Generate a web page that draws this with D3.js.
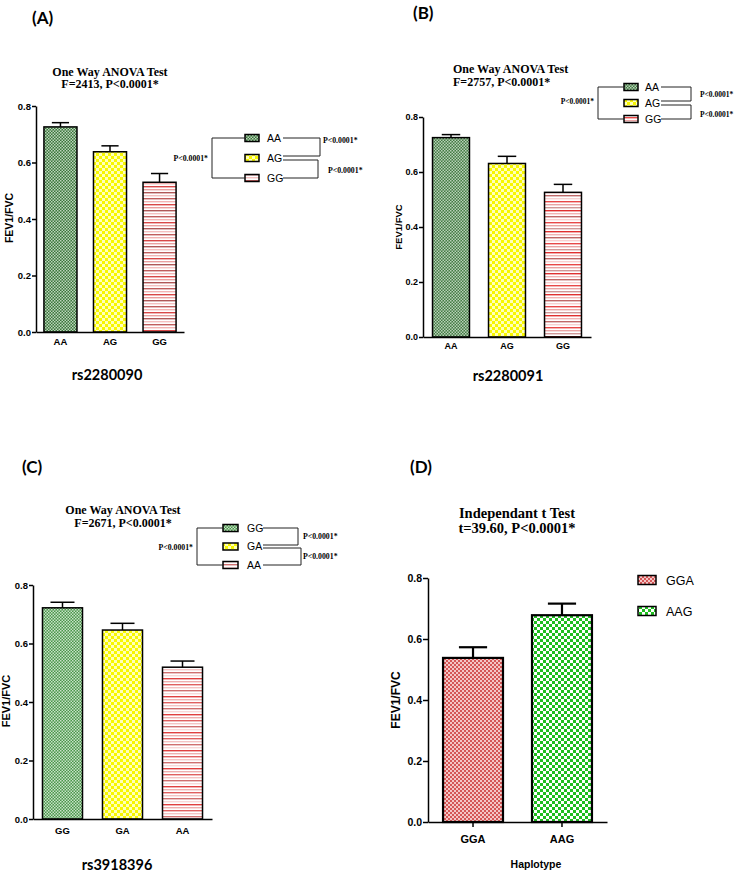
<!DOCTYPE html>
<html>
  <head>
    <meta charset="utf-8" />
    <title>FEV1/FVC by genotype</title>
    <script src="https://d3js.org/d3.v7.min.js"></script>
    <style>
      body { margin: 0; background: #fff; }
      .axis .domain, .axis line { stroke: #000; stroke-width: 1.5; }
      .axis text { font-family: Arial, "Liberation Sans", sans-serif; font-weight: bold; fill: #000; }
      .bar { stroke: #000; }
      .err { stroke: #000; fill: none; }
      .bracket { stroke: #222; stroke-width: 1; fill: none; }
      .pval { font-family: "Liberation Serif", "Times New Roman", serif; font-weight: bold; fill: #000; }
      .title { font-family: "Liberation Serif", "Times New Roman", serif; font-weight: bold; fill: #000; }
      .panel-tag { font-family: Lato, "Open Sans", sans-serif; font-weight: bold; }
      .snp { font-family: Lato, "Open Sans", sans-serif; font-weight: bold; }
      .ylab, .xlab { font-family: Arial, "Liberation Sans", sans-serif; font-weight: bold; }
      .leg { font-family: Arial, "Liberation Sans", sans-serif; fill: #000; }
    </style>
  </head>
  <body>
    <svg width="740" height="875"></svg>
    <script>
      // Values (mean and error bar length)
      const yTicks = [0, 0.2, 0.4, 0.6, 0.8];

      const genoA = ["AA", "AG", "GG"];
      const meanA = [0.726, 0.638, 0.53];
      const semA = [0.015, 0.021, 0.031];

      const genoB = ["AA", "AG", "GG"];
      const meanB = [0.725, 0.631, 0.526];
      const semB = [0.011, 0.026, 0.029];

      const genoC = ["GG", "GA", "AA"];
      const meanC = [0.722, 0.646, 0.519];
      const semC = [0.019, 0.023, 0.021];

      const haploD = ["GGA", "AAG"];
      const meanD = [0.538, 0.678];
      const semD = [0.035, 0.038];

      const pText = "P<0.0001*";

      const svg = d3.select("svg");
      svg.append("rect").attr("width", 740).attr("height", 875).attr("fill", "#fff");
      const defs = svg.append("defs");

      // fill patterns
      function checker(id, size, bg, fg) {
        const p = defs.append("pattern").attr("id", id)
          .attr("patternUnits", "userSpaceOnUse")
          .attr("width", size * 2).attr("height", size * 2);
        p.append("rect").attr("width", size * 2).attr("height", size * 2).attr("fill", bg);
        p.append("rect").attr("width", size).attr("height", size).attr("fill", fg);
        p.append("rect").attr("x", size).attr("y", size).attr("width", size).attr("height", size).attr("fill", fg);
      }
      function stripes(id, colors, gap) {
        const p = defs.append("pattern").attr("id", id)
          .attr("patternUnits", "userSpaceOnUse")
          .attr("width", 4).attr("height", colors.length * gap);
        p.append("rect").attr("width", 4).attr("height", colors.length * gap).attr("fill", "#fff");
        colors.forEach((c, i) => {
          p.append("rect").attr("y", i * gap).attr("width", 4).attr("height", 1.4).attr("fill", c);
        });
      }
      checker("greenA", 1.5, "#3a763a", "#bcd4bc");
      checker("greenB", 1.5, "#437b43", "#b8d0b8");
      checker("greenC", 1.5, "#4a964a", "#c8e2c8");
      checker("yellow", 3, "#f7f700", "#ffffb8");
      stripes("redA", ["#c05e5e", "#f2b4b4", "#d84848", "#eaa0a0", "#b05858", "#f4c0c0"], 3);
      stripes("redB", ["#e03030", "#f2b4b4", "#c06868", "#f8d0d0", "#e84848", "#eaa4a4", "#d09898"], 3);
      stripes("redC", ["#e06060", "#f4c4c4", "#d07070", "#f8d8d8", "#e04040", "#eeb0b0"], 3);
      checker("redD", 2, "#d45656", "#f4c6c6");
      checker("greenD", 3, "#1fbd1f", "#ffffff");

      function drawPanel(p) {
        const g = svg.append("g");
        const x = d3.scaleBand().domain(p.cats)
          .range([p.x0, p.x1]).paddingInner(p.pi).paddingOuter(p.po);
        const y = d3.scaleLinear().domain([0, 0.8]).range([p.y0, p.y1]);

        // bars
        g.selectAll(".bar").data(p.cats).join("rect")
          .attr("class", "bar")
          .attr("x", (d) => x(d))
          .attr("y", (d, i) => y(p.mean[i]))
          .attr("width", x.bandwidth())
          .attr("height", (d, i) => y(0) - y(p.mean[i]))
          .attr("fill", (d, i) => "url(#" + p.fills[i] + ")")
          .attr("stroke-width", p.barStroke);

        // error bars
        const cap = x.bandwidth() * p.capFrac;
        const cx = (d) => x(d) + x.bandwidth() / 2;
        g.selectAll(".errv").data(p.cats).join("line")
          .attr("class", "err")
          .attr("stroke-width", p.barStroke)
          .attr("x1", cx).attr("x2", cx)
          .attr("y1", (d, i) => y(p.mean[i]))
          .attr("y2", (d, i) => y(p.mean[i] + p.sem[i]));
        g.selectAll(".errc").data(p.cats).join("line")
          .attr("class", "err")
          .attr("stroke-width", p.barStroke)
          .attr("x1", (d) => cx(d) - cap / 2).attr("x2", (d) => cx(d) + cap / 2)
          .attr("y1", (d, i) => y(p.mean[i] + p.sem[i]))
          .attr("y2", (d, i) => y(p.mean[i] + p.sem[i]));

        // axes
        const ya = g.append("g").attr("class", "axis")
          .attr("transform", "translate(" + p.x0 + ",0)")
          .call(d3.axisLeft(y).tickValues(yTicks).tickFormat(d3.format(".1f"))
            .tickSize(p.yTick).tickSizeOuter(0).tickPadding(1));
        ya.selectAll("text").style("font-size", p.tickFont + "px");

        const xa = g.append("g").attr("class", "axis")
          .attr("transform", "translate(0," + p.y0 + ")")
          .call(d3.axisBottom(x).tickSize(p.xTick).tickSizeOuter(0).tickPadding(p.xPad));
        xa.selectAll("text").style("font-size", p.xFont + "px");

        // y label
        g.append("text").attr("class", "ylab")
          .attr("transform", "translate(" + p.ylabX + "," + p.ylabY + ") rotate(-90)")
          .attr("text-anchor", "middle")
          .style("font-size", p.ylabFont + "px")
          .text("FEV1/FVC");

        // panel tag and titles
        g.append("text").attr("class", "panel-tag")
          .attr("x", p.tag[0]).attr("y", p.tag[1])
          .style("font-size", "17px").text(p.tagText);
        p.title.forEach((t, i) => {
          g.append("text").attr("class", "title")
            .attr("x", p.titleX).attr("y", p.titleY[i])
            .attr("text-anchor", p.titleAnchor)
            .style("font-size", p.titleFont + "px").text(t);
        });
        g.append("text").attr("class", p.subClass)
          .attr("x", p.sub[0]).attr("y", p.sub[1])
          .attr("text-anchor", "middle")
          .style("font-size", p.subFont + "px").text(p.subText);

        // legend
        const L = p.legend;
        const ly = d3.scalePoint().domain(p.cats).range(L.rows);
        const lg = g.append("g");
        lg.selectAll("rect").data(p.cats).join("rect")
          .attr("x", L.sx).attr("y", (d) => ly(d) - L.sh / 2)
          .attr("width", L.sw).attr("height", L.sh)
          .attr("fill", (d, i) => "url(#" + p.fills[i] + ")")
          .attr("stroke", "#000").attr("stroke-width", 1.5);
        lg.selectAll("text").data(p.cats).join("text")
          .attr("class", "leg")
          .attr("x", L.tx).attr("y", (d) => ly(d))
          .attr("dy", "0.36em")
          .style("font-size", L.font + "px")
          .text((d) => d);

        if (L.brackets) {
          const r = p.cats.map((d) => ly(d));
          const left = d3.path();
          left.moveTo(L.sx, r[0]); left.lineTo(L.lx, r[0]);
          left.lineTo(L.lx, r[2]); left.lineTo(L.sx, r[2]);
          const right = d3.path();
          right.moveTo(L.le, r[0]); right.lineTo(L.rx[0], r[0]);
          right.lineTo(L.rx[0], r[1] - L.gap); right.lineTo(L.le, r[1] - L.gap);
          right.moveTo(L.le, r[1] + L.gap); right.lineTo(L.rx[1], r[1] + L.gap);
          right.lineTo(L.rx[1], r[2]); right.lineTo(L.le, r[2]);
          lg.append("path").attr("class", "bracket").attr("d", left.toString());
          lg.append("path").attr("class", "bracket").attr("d", right.toString());

          lg.append("text").attr("class", "pval")
            .attr("x", L.lx - 4).attr("y", r[1] + L.ldy)
            .attr("text-anchor", "end")
            .style("font-size", L.pFont + "px").text(pText);
          L.rt.forEach((t) => {
            lg.append("text").attr("class", "pval")
              .attr("x", t[0]).attr("y", t[1] === 0 ? r[0] + t[2] : r[2] + t[2])
              .style("font-size", L.pFont + "px").text(pText);
          });
        }
      }

      drawPanel({
        cats: genoA, mean: meanA, sem: semA,
        fills: ["greenA", "yellow", "redA"],
        x0: 36, x1: 184, pi: 0.333, po: 0.16, y0: 332, y1: 106,
        barStroke: 1.5, capFrac: 0.52, yTick: 4, xTick: 0, xPad: 6,
        tickFont: 9.5, xFont: 9.5,
        ylabX: 13, ylabY: 218, ylabFont: 10.5,
        tag: [32, 24], tagText: "(A)",
        title: ["One Way ANOVA Test", "F=2413, P<0.0001*"],
        titleX: 110, titleY: [75.5, 88], titleAnchor: "middle", titleFont: 12,
        sub: [107, 380], subText: "rs2280090", subFont: 14.5, subClass: "snp",
        legend: {
          rows: [138, 178], sx: 245, sw: 14, sh: 7, tx: 267, font: 10.5,
          brackets: true, lx: 212, le: 283, rx: [320, 318], gap: 2,
          ldy: 2.5, pFont: 7.8,
          rt: [[323, 0, 5], [328, 2, -5]]
        }
      });

      drawPanel({
        cats: genoB, mean: meanB, sem: semB,
        fills: ["greenB", "yellow", "redB"],
        x0: 423, x1: 591, pi: 0.34, po: 0.17, y0: 337, y1: 117,
        barStroke: 1.5, capFrac: 0.5, yTick: 4, xTick: 0, xPad: 6,
        tickFont: 9, xFont: 9,
        ylabX: 402, ylabY: 227, ylabFont: 9.5,
        tag: [413, 19], tagText: "(B)",
        title: ["One Way ANOVA Test", "F=2757, P<0.0001*"],
        titleX: 453, titleY: [73, 85.5], titleAnchor: "start", titleFont: 12,
        sub: [508, 381], subText: "rs2280091", subFont: 14.5, subClass: "snp",
        legend: {
          rows: [87, 119], sx: 624, sw: 14, sh: 7, tx: 645, font: 10.5,
          brackets: true, lx: 598, le: 661, rx: [691, 691], gap: 2,
          ldy: 1, pFont: 7.5,
          rt: [[700, 0, 10], [700, 2, -2]]
        }
      });

      drawPanel({
        cats: genoC, mean: meanC, sem: semC,
        fills: ["greenC", "yellow", "redC"],
        x0: 33, x1: 212, pi: 0.333, po: 0.158, y0: 819, y1: 585,
        barStroke: 1.5, capFrac: 0.6, yTick: 4, xTick: 0, xPad: 8,
        tickFont: 9.5, xFont: 9.5,
        ylabX: 10, ylabY: 701, ylabFont: 11,
        tag: [22, 473], tagText: "(C)",
        title: ["One Way ANOVA Test", "F=2671, P<0.0001*"],
        titleX: 123, titleY: [514, 526.5], titleAnchor: "middle", titleFont: 12,
        sub: [117, 870], subText: "rs3918396", subFont: 14.5, subClass: "snp",
        legend: {
          rows: [528, 565], sx: 223, sw: 15, sh: 7, tx: 247, font: 10.5,
          brackets: true, lx: 197, le: 263, rx: [298, 301], gap: 1.5,
          ldy: 3, pFont: 7.8,
          rt: [[303, 0, 11], [303, 2, -6.5]]
        }
      });

      drawPanel({
        cats: haploD, mean: meanD, sem: semD,
        fills: ["redD", "greenD"],
        x0: 428, x1: 607, pi: 0.326, po: 0.169, y0: 822, y1: 578,
        barStroke: 2.2, capFrac: 0.47, yTick: 5, xTick: 5, xPad: 8,
        tickFont: 10.5, xFont: 11,
        ylabX: 400, ylabY: 700, ylabFont: 12,
        tag: [410, 473], tagText: "(D)",
        title: ["Independant t Test", "t=39.60, P<0.0001*"],
        titleX: 517, titleY: [517.5, 532.5], titleAnchor: "middle", titleFont: 14.5,
        sub: [536, 868], subText: "Haplotype", subFont: 10.5, subClass: "xlab",
        legend: {
          rows: [580, 611], sx: 638, sw: 18, sh: 9, tx: 666, font: 12.5,
          brackets: false
        }
      });
    </script>
  </body>
</html>
